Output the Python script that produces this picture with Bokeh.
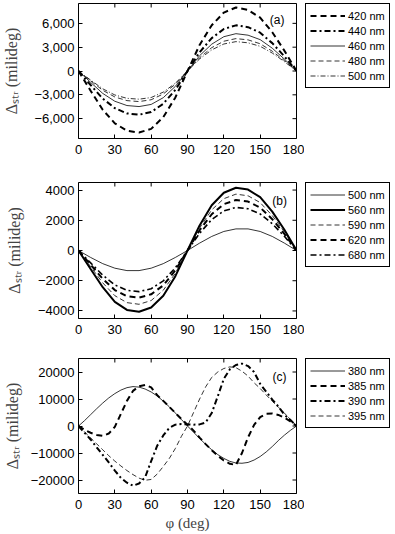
import math
from bokeh.plotting import figure
from bokeh.models import Range1d, FixedTicker, Legend, LegendItem, Label
from bokeh.layouts import column, row
from bokeh.embed import file_html
from bokeh.resources import INLINE

# ---------------- data ----------------
phi_ab = [0, 10, 20, 30, 40, 50, 60, 70, 80, 90, 100, 110, 120, 130, 140, 150, 160, 170, 180]
phi_c = [0, 5, 10, 15, 20, 25, 30, 35, 40, 45, 50, 55, 60, 65, 70, 75, 80, 85, 90,
         95, 100, 105, 110, 115, 120, 125, 130, 135, 140, 145, 150, 155, 160, 165, 170, 175, 180]

# panel (a)
a_420 = [0, -2480, -4880, -6590, -7520, -7750, -7290, -5810, -3330, 0, 3280, 5760, 7360, 8000, 7680, 6720, 4880, 2560, 0]
a_440 = [0, -1760, -3470, -4680, -5340, -5500, -5170, -4130, -2370, 0, 2360, 4140, 5290, 5750, 5520, 4830, 3510, 1840, 0]
a_460 = [0, -1430, -2820, -3810, -4350, -4480, -4210, -3360, -1930, 0, 1930, 3380, 4320, 4700, 4510, 3950, 2870, 1500, 0]
a_480 = [0, -1230, -2430, -3270, -3730, -3850, -3620, -2890, -1660, 0, 1670, 2940, 3750, 4080, 3920, 3430, 2490, 1310, 0]
a_500 = [0, -1140, -2240, -3020, -3440, -3550, -3340, -2660, -1530, 0, 1520, 2660, 3400, 3700, 3550, 3110, 2260, 1180, 0]

# panel (b)
b_500 = [0, -460, -870, -1170, -1330, -1330, -1170, -870, -460, 0, 490, 930, 1260, 1430, 1430, 1260, 930, 490, 0]
b_560 = [0, -1220, -2430, -3400, -3930, -4050, -3770, -3000, -1700, 0, 1660, 2990, 3820, 4150, 4030, 3530, 2570, 1370, 0]
b_590 = [0, -1070, -2140, -2990, -3450, -3560, -3310, -2630, -1500, 0, 1490, 2690, 3430, 3730, 3620, 3170, 2310, 1230, 0]
b_620 = [0, -940, -1870, -2620, -3030, -3120, -2900, -2310, -1310, 0, 1340, 2400, 3070, 3340, 3240, 2840, 2070, 1100, 0]
b_680 = [0, -820, -1630, -2280, -2640, -2720, -2530, -2010, -1140, 0, 1140, 2050, 2620, 2850, 2760, 2420, 1770, 940, 0]

# panel (c)
c_380 = [0, 2000, 4200, 6400, 8500, 10400, 12000, 13300, 14200, 14600, 14400, 13700, 12600, 11100, 9200, 7100, 4800, 2400, 0,
         -2300, -4600, -6800, -8800, -10600, -12000, -13100, -13700, -13800, -13500, -12600, -11300, -9600, -7600, -5400, -3400, -1600, 0]
c_385 = [0, -1400, -2500, -3300, -3650, -2800, -300, 4500, 9300, 13000, 14700, 15200, 14300, 11400, 9300, 7100, 4800, 2600, 500,
         -1700, -4300, -6700, -9000, -11000, -12800, -14000, -14400, -10000, -4200, 400, 3300, 4500, 4600, 4100, 3100, 1700, 0]
c_390 = [0, -2500, -5000, -7900, -10700, -13500, -16500, -19200, -21000, -22100, -21300, -19000, -13000, -7300, -3500, -700, 500, 700, 600,
         500, 600, 1300, 4800, 11000, 17500, 21000, 22600, 23100, 22200, 20000, 15600, 12700, 9800, 7200, 4200, 2200, 0]
c_395 = [0, -2200, -4400, -6600, -8800, -11000, -13000, -14800, -16500, -18000, -19300, -20100, -19800, -17800, -15000, -12000, -8300, -3800, 0,
         5000, 10000, 14500, 18000, 20000, 21300, 21900, 21600, 20300, 18500, 16000, 13900, 11500, 9200, 7000, 4800, 2400, 0]

x_ticks = [0, 30, 60, 90, 120, 150, 180]
a_ticks = [-6000, -3000, 0, 3000, 6000]
a_tick_labels = ["\u22126,000", "\u22123,000", "0", "3,000", "6,000"]
b_ticks = [-4000, -2000, 0, 2000, 4000]
b_tick_labels = ["\u22124000", "\u22122000", "0", "2000", "4000"]
c_ticks = [-20000, -10000, 0, 10000, 20000]
c_tick_labels = ["\u221220000", "\u221210000", "0", "10000", "20000"]

THICK, THIN = 2.0, 0.8

SANS = "Liberation Sans"
SERIF = "Liberation Serif"


def make_panel(series, yr, yticks, ylabels, tag, tag_xy, top, fh, bottom, xlabel=None, ystand=8):
    H = top + fh + bottom
    p = figure(width=304, height=H, output_backend="svg", toolbar_location=None,
               x_range=Range1d(0, 180), y_range=Range1d(-yr, yr),
               min_border_left=78, min_border_right=8, min_border_top=top, min_border_bottom=bottom)
    p.xgrid.visible = False
    p.ygrid.visible = False
    p.outline_line_color = "black"
    p.outline_line_width = 1
    p.outline_line_alpha = 1.0
    p.background_fill_color = "white"
    p.border_fill_color = "white"

    xa = p.xaxis[0]
    xa.ticker = FixedTicker(ticks=x_ticks)
    ya = p.yaxis[0]
    ya.ticker = FixedTicker(ticks=yticks)
    ya.major_label_overrides = {t: l for t, l in zip(yticks, ylabels)}
    for ax in (xa, ya):
        ax.major_tick_in = 4
        ax.major_tick_out = 0
        ax.minor_tick_line_color = None
        ax.axis_line_color = None
        ax.major_tick_line_color = "black"
        ax.major_label_text_font = SANS
        ax.major_label_text_font_size = "13px"
        ax.major_label_text_color = "black"
    ya.major_label_standoff = 4
    xa.major_label_standoff = 6
    ya.axis_label = "\u0394\u209b\u209c\u1d63 (milideg)"
    ya.axis_label_text_font = SERIF
    ya.axis_label_text_font_size = "16px"
    ya.axis_label_text_font_style = "normal"
    ya.axis_label_standoff = ystand
    if xlabel:
        xa.axis_label = xlabel
        xa.axis_label_text_font = SERIF
        xa.axis_label_text_font_size = "15px"
        xa.axis_label_text_font_style = "normal"
        xa.axis_label_standoff = 3

    # inward ticks on the top and right sides of the box (dash markers clipped by the frame)
    p.scatter(x=x_ticks, y=[yr] * len(x_ticks), marker="dash", size=8, angle=math.pi / 2,
              line_color="black", line_width=1)
    p.scatter(x=[180] * len(yticks), y=yticks, marker="dash", size=8,
              line_color="black", line_width=1)

    for label, xs, ys, w, dash in series:
        p.line(xs, ys, line_color="black", line_width=w, line_dash=dash)

    p.add_layout(Label(x=tag_xy[0], y=tag_xy[1], text=tag, text_font=SANS, text_font_size="12px",
                       text_align="center", text_baseline="middle", text_color="black"))

    # legend box, drawn in its own small canvas to the right of the axes box
    # (the same series are drawn there, but outside that canvas's visible ranges)
    lg = figure(width=88, height=H, output_backend="svg", toolbar_location=None,
                x_axis_type=None, y_axis_type=None,
                x_range=Range1d(1000, 1001), y_range=Range1d(1e6, 1e6 + 1),
                min_border_left=1, min_border_right=0, min_border_top=top, min_border_bottom=0)
    lg.xgrid.visible = False
    lg.ygrid.visible = False
    lg.outline_line_color = None
    lg.background_fill_color = "white"
    lg.border_fill_color = "white"
    items = []
    for label, xs, ys, w, dash in series:
        r = lg.line(xs, ys, line_color="black", line_width=w, line_dash=dash)
        items.append(LegendItem(label=label, renderers=[r]))
    leg = Legend(items=items, location="top_left", margin=0, padding=4,
                 label_height=15, glyph_height=15, glyph_width=35, label_standoff=3, spacing=0,
                 border_line_color="black", border_line_width=1, border_line_alpha=1.0,
                 background_fill_color="white", background_fill_alpha=1.0,
                 label_text_font=SANS, label_text_font_size="11px", label_text_color="black")
    lg.add_layout(leg)
    return row(p, lg, spacing=0)


pa = make_panel([
    ("420 nm", phi_ab, a_420, THICK, "6 4"),
    ("440 nm", phi_ab, a_440, THICK, "6 3 2 3"),
    ("460 nm", phi_ab, a_460, THIN, "solid"),
    ("480 nm", phi_ab, a_480, THIN, "5 3"),
    ("500 nm", phi_ab, a_500, THIN, "5 2 1 2"),
], 8500, a_ticks, a_tick_labels, "(a)", (164, 6400), 3, 135, 40, ystand=11)

pb = make_panel([
    ("500 nm", phi_ab, b_500, THIN, "solid"),
    ("560 nm", phi_ab, b_560, THICK, "solid"),
    ("590 nm", phi_ab, b_590, THIN, "5 3"),
    ("620 nm", phi_ab, b_620, THICK, "6 4"),
    ("680 nm", phi_ab, b_680, THICK * 0.8, "6 3 2 3"),
], 4500, b_ticks, b_tick_labels, "(b)", (166, 3300), 4, 136, 36, ystand=12)

pc = make_panel([
    ("380 nm", phi_c, c_380, THIN, "solid"),
    ("385 nm", phi_c, c_385, THICK, "6 4"),
    ("390 nm", phi_c, c_390, THICK, "6 3 2 3"),
    ("395 nm", phi_c, c_395, THIN, "5 3"),
], 25000, c_ticks, c_tick_labels, "(c)", (166, 18000), 4, 135, 41, xlabel="\u03c6 (deg)", ystand=7)

layout = column(pa, pb, pc, spacing=0)
open("out.html", "w").write(file_html(layout, INLINE))
